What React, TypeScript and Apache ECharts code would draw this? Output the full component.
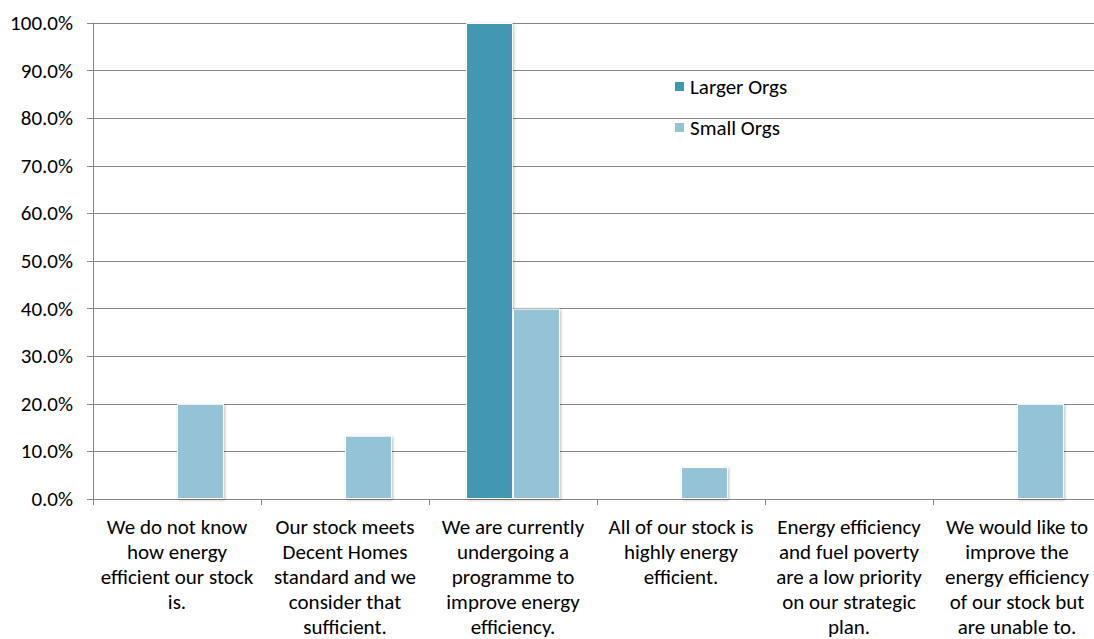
import React, { useEffect, useRef } from "react";
import * as echarts from "echarts";

const categories: string[] = [
  "We do not know\nhow energy\nefficient our stock\nis.",
  "Our stock meets\nDecent Homes\nstandard and we\nconsider that\nsufficient.",
  "We are currently\nundergoing a\nprogramme to\nimprove energy\nefficiency.",
  "All of our stock is\nhighly energy\nefficient.",
  "Energy efficiency\nand fuel poverty\nare a low priority\non our strategic\nplan.",
  "We would like to\nimprove the\nenergy efficiency\nof our stock but\nare unable to.",
];

const largerOrgs: number[] = [0, 0, 100, 0, 0, 0];
const smallOrgs: number[] = [20, 13.3, 40, 6.7, 0, 20];

const seriesNames: string[] = ["Larger Orgs", "Small Orgs"];
const seriesColors: string[] = ["#4298B0", "#93C3D5"];

const FONT = "Carlito, Calibri, Lato, 'Open Sans', sans-serif";

export default function App() {
  const ref = useRef<HTMLDivElement>(null);

  useEffect(() => {
    document.body.style.margin = "0";
    document.body.style.overflow = "hidden";
    if (!ref.current) return;
    const chart = echarts.init(ref.current, null, { renderer: "svg" });
    const barStyle = (color: string) => ({
      color,
      borderColor: "#ffffff",
      borderWidth: 1,
      shadowBlur: 3,
      shadowColor: "rgba(0,0,0,0.25)",
      shadowOffsetX: 1,
      shadowOffsetY: 1,
    });
    chart.setOption({
      animation: false,
      backgroundColor: "#ffffff",
      textStyle: { fontFamily: FONT },
      grid: { left: 93, top: 23, width: 1008, height: 476, containLabel: false },
      legend: {
        orient: "vertical",
        left: 668,
        top: 71,
        itemWidth: 11,
        itemHeight: 11,
        itemGap: 20,
        icon: "rect",
        data: seriesNames,
        textStyle: { fontFamily: FONT, fontSize: 21, color: "#000", lineHeight: 21 },
      },
      xAxis: {
        type: "category",
        data: categories,
        axisLine: { show: true, lineStyle: { color: "#868686", width: 1 } },
        axisTick: { show: true, length: 6, lineStyle: { color: "#868686" } },
        axisLabel: {
          interval: 0,
          margin: 15,
          color: "#000",
          fontFamily: FONT,
          fontSize: 21,
          lineHeight: 25,
          align: "center",
        },
        splitLine: { show: false },
      },
      yAxis: {
        type: "value",
        min: 0,
        max: 100,
        interval: 10,
        axisLine: { show: true, lineStyle: { color: "#868686", width: 1 } },
        axisTick: { show: true, length: 6, lineStyle: { color: "#868686" } },
        axisLabel: {
          margin: 20,
          color: "#000",
          fontFamily: FONT,
          fontSize: 21,
          formatter: (v: number) => v.toFixed(1) + "%",
        },
        splitLine: { show: true, lineStyle: { color: "#868686", width: 1 } },
      },
      series: [
        {
          name: seriesNames[0],
          type: "bar",
          data: largerOrgs,
          barWidth: 47,
          barGap: "0%",
          itemStyle: barStyle(seriesColors[0]),
        },
        {
          name: seriesNames[1],
          type: "bar",
          data: smallOrgs,
          barWidth: 47,
          barGap: "0%",
          itemStyle: barStyle(seriesColors[1]),
        },
      ],
    });
    return () => chart.dispose();
  }, []);

  return (
    <div style={{ position: "absolute", left: 0, top: 0, width: 1094, height: 639, overflow: "hidden" }}>
      <div ref={ref} style={{ width: 1120, height: 639 }} />
    </div>
  );
}
